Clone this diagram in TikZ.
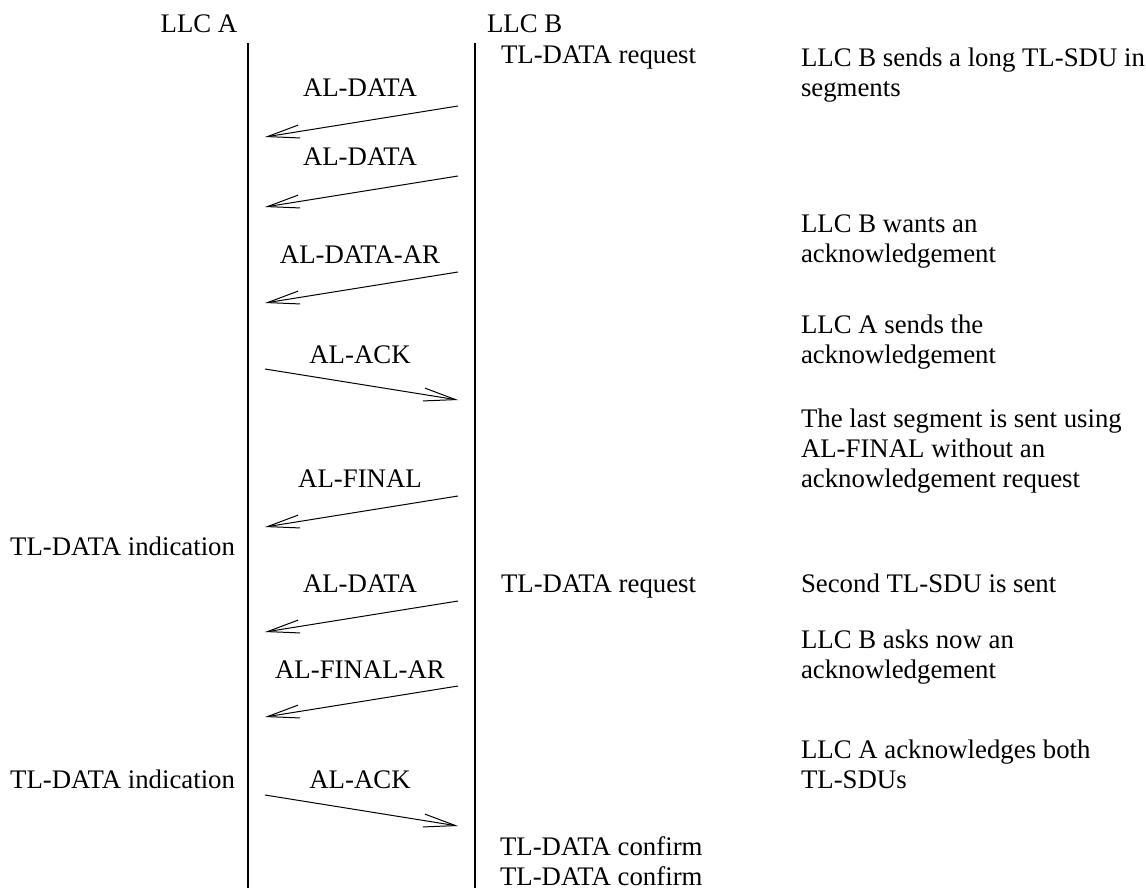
\documentclass[tikz,border=0pt]{standalone}
\usepackage{fontspec}
\setmainfont{Liberation Serif}
\usetikzlibrary{arrows.meta}
\begin{document}
\begin{tikzpicture}[x=0.5pt,y=-0.5pt,
  txt/.style={inner sep=0pt,outer sep=0pt,font=\fontsize{13.4}{15}\selectfont,align=left},
  lbl/.style={txt,anchor=base},
  lt/.style={txt,anchor=base west},
  life/.style={line width=1pt},
  msg/.style={line width=0.5pt,-{Straight Barb[length=16pt,width=6.5pt,line width=0.5pt]}}]
\useasboundingbox (0,0) rectangle (1146,888);
% headers
\node[lbl] (llcA) at (199,33) {LLC A};
\node[lt] (llcB) at (487,33) {LLC B};
% lifelines
\coordinate (aTop) at (248,43); \coordinate (aBot) at (248,888);
\coordinate (bTop) at (475,43); \coordinate (bBot) at (475,888);
\draw[life] (aTop) -- (aBot);
\draw[life] (bTop) -- (bBot);
% B-side texts
\node[lt] (req1) at (501,64) {TL-DATA request};
\node[lt] (req2) at (501,592) {TL-DATA request};
\node[lt] (conf1) at (500,855) {TL-DATA confirm};
\node[lt] (conf2) at (500,885) {TL-DATA confirm};
% A-side texts
\node[txt,anchor=base east] (ind1) at (235,555) {TL-DATA indication};
\node[txt,anchor=base east] (ind2) at (235,788) {TL-DATA indication};
% comments (base anchor = baseline of last line)
\node[lt] (c1) at (801,97) {LLC B sends a long TL-SDU in\\segments};
\node[lt] (c2) at (801,262) {LLC B wants an\\acknowledgement};
\node[lt] (c3) at (801,363) {LLC A sends the\\acknowledgement};
\node[lt] (c4) at (801,487) {The last segment is sent using\\AL-FINAL without an\\acknowledgement request};
\node[lt] (c5) at (801,592) {Second TL-SDU is sent};
\node[lt] (c6) at (801,678) {LLC B asks now an\\acknowledgement};
\node[lt] (c7) at (801,788) {LLC A acknowledges both\\TL-SDUs};
% message labels
\node[lbl] (m1) at (360,97) {AL-DATA};
\node[lbl] (m2) at (360,166) {AL-DATA};
\node[lbl] (m3) at (360,263) {AL-DATA-AR};
\node[lbl] (m4) at (360,363) {AL-ACK};
\node[lbl] (m5) at (360,487) {AL-FINAL};
\node[lbl] (m6) at (360,592) {AL-DATA};
\node[lbl] (m7) at (360,678) {AL-FINAL-AR};
\node[lbl] (m8) at (360,788) {AL-ACK};
% arrow endpoints
\coordinate (s1) at (458,106); \coordinate (e1) at (265,137);
\coordinate (s2) at (458,176); \coordinate (e2) at (265,207);
\coordinate (s3) at (458,272); \coordinate (e3) at (265,303);
\coordinate (s4) at (265,369); \coordinate (e4) at (458,400);
\coordinate (s5) at (458,496); \coordinate (e5) at (265,527);
\coordinate (s6) at (458,601); \coordinate (e6) at (265,632);
\coordinate (s7) at (458,686); \coordinate (e7) at (265,717);
\coordinate (s8) at (265,795); \coordinate (e8) at (458,826);
\foreach \i in {1,...,8} {\draw[msg] (s\i) -- (e\i);}
\end{tikzpicture}
\end{document}
